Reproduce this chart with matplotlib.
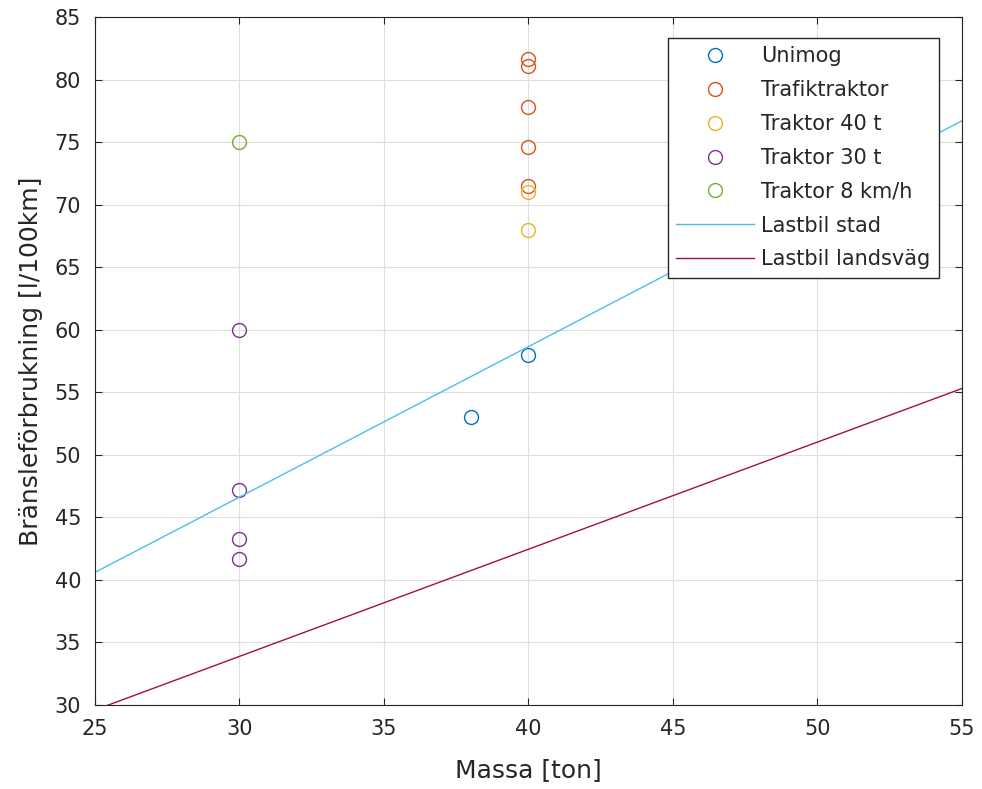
import matplotlib.pyplot as plt

plt.rcParams['font.family'] = ['DejaVu Sans']

# Data
unimog_x = [38, 40]
unimog_y = [53, 58]
trafik_x = [40, 40, 40, 40, 40]
trafik_y = [81.6, 81.1, 77.8, 74.6, 71.5]
traktor40_x = [40, 40]
traktor40_y = [71.0, 68.0]
traktor30_x = [30, 30, 30, 30]
traktor30_y = [60.0, 47.2, 43.3, 41.7]
traktor8_x = [30]
traktor8_y = [75.0]
stad_x = [25, 55]
stad_y = [40.6, 76.7]
land_x = [25, 55]
land_y = [29.6, 55.3]

fig = plt.figure(figsize=(9.82, 7.89), dpi=100)
ax = fig.add_axes([0.0967, 0.1065, 0.8829, 0.872])

ms = 10
ax.plot(unimog_x, unimog_y, 'o', mfc='none', mec='#0072BD', ms=ms, mew=1, label='Unimog')
ax.plot(trafik_x, trafik_y, 'o', mfc='none', mec='#D95319', ms=ms, mew=1, label='Trafiktraktor')
ax.plot(traktor40_x, traktor40_y, 'o', mfc='none', mec='#EDB120', ms=ms, mew=1, label='Traktor 40 t')
ax.plot(traktor30_x, traktor30_y, 'o', mfc='none', mec='#7E2F8E', ms=ms, mew=1, label='Traktor 30 t')
ax.plot(traktor8_x, traktor8_y, 'o', mfc='none', mec='#77AC30', ms=ms, mew=1, label='Traktor 8 km/h')
ax.plot(stad_x, stad_y, color='#4DBEEE', lw=1, label='Lastbil stad')
ax.plot(land_x, land_y, color='#A2142F', lw=1, label='Lastbil landsväg')

ax.set_xlim(25, 55)
ax.set_ylim(30, 85)
ax.set_xticks(range(25, 56, 5))
ax.set_yticks(range(30, 86, 5))
ax.grid(True, color='#dedede', lw=0.8)
ax.set_axisbelow(True)
ax.tick_params(direction='in', top=True, right=True, labelsize=15, colors='#262626',
               length=5, pad=10)
for s in ax.spines.values():
    s.set_color('#262626')

ax.set_xlabel('Massa [ton]', fontsize=18, color='#262626', labelpad=14)
ax.set_ylabel('Bränsleförbrukning [l/100km]', fontsize=18, color='#262626', labelpad=8)

leg = ax.legend(loc='upper right', bbox_to_anchor=(0.9735, 0.9695), borderaxespad=0,
                fontsize=15, handlelength=3.75, handletextpad=0.35, labelspacing=0.665,
                fancybox=False, framealpha=1, edgecolor='#262626')
leg.get_frame().set_linewidth(1)
for t in leg.get_texts():
    t.set_color('#262626')

fig.savefig('out.png', dpi=100)
